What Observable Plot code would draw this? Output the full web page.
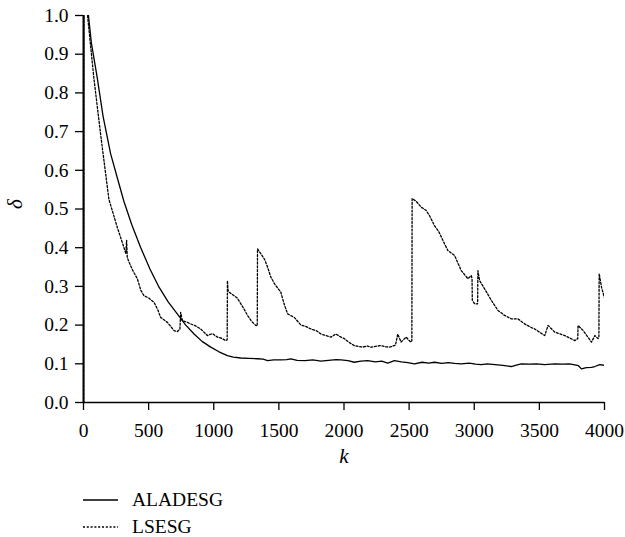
<!DOCTYPE html>
<html>
<head>
<meta charset="utf-8">
<script src="https://cdn.jsdelivr.net/npm/d3@7"></script>
<script src="https://cdn.jsdelivr.net/npm/@observablehq/plot@0.6"></script>
<style>
  body { margin: 0; background: white; }
  #wrap { position: relative; width: 625px; height: 537px; font-family: 'Liberation Serif'; }
  .leg { position: absolute; left: 83px; font-size: 19.5px; font-family: 'Liberation Serif'; display: flex; align-items: center; height: 20px; }
  .leg svg { margin-right: 14px; }
</style>
</head>
<body>
<div id="wrap">
  <div id="chart"></div>
</div>
<script>
// ---- data ----
const seriesNames = ["ALADESG", "LSESG"];
const xTicks = [0, 500, 1000, 1500, 2000, 2500, 3000, 3500, 4000];
const yTicks = [0, 0.1, 0.2, 0.3, 0.4, 0.5, 0.6, 0.7, 0.8, 0.9, 1.0];

const aladesgK = [0, 2, 38, 60, 105, 150, 208, 260, 310, 370, 438, 510, 580, 650, 720, 785, 849, 910, 977, 1040, 1105, 1150, 1208, 1270, 1336, 1380, 1413, 1460, 1515, 1560, 1592, 1640, 1700, 1760, 1823, 1880, 1940, 1977, 2030, 2079, 2130, 2182, 2240, 2290, 2336, 2387, 2440, 2490, 2541, 2600, 2650, 2695, 2750, 2800, 2850, 2900, 2960, 3010, 3054, 3100, 3160, 3220, 3285, 3330, 3362, 3420, 3480, 3540, 3618, 3680, 3730, 3772, 3800, 3823, 3860, 3900, 3926, 3964, 4000];
const aladesgV = [0, 1.3, 1.0, 0.93, 0.84, 0.74, 0.643, 0.58, 0.52, 0.46, 0.401, 0.345, 0.298, 0.26, 0.229, 0.2, 0.177, 0.158, 0.143, 0.131, 0.121, 0.117, 0.115, 0.114, 0.113, 0.112, 0.108, 0.11, 0.11, 0.111, 0.113, 0.109, 0.108, 0.11, 0.107, 0.109, 0.111, 0.11, 0.108, 0.104, 0.107, 0.108, 0.105, 0.107, 0.102, 0.108, 0.105, 0.103, 0.1, 0.104, 0.102, 0.104, 0.101, 0.103, 0.101, 0.1, 0.102, 0.099, 0.098, 0.1, 0.098, 0.096, 0.093, 0.097, 0.1, 0.099, 0.1, 0.098, 0.1, 0.099, 0.1, 0.097, 0.095, 0.087, 0.09, 0.091, 0.093, 0.098, 0.096];

const lsesgK = [0, 2, 31, 79, 131, 195, 259, 310, 325, 331, 336, 349, 380, 413, 440, 464, 500, 541, 570, 592, 644, 695, 720, 740, 746, 759, 790, 823, 860, 900, 951, 990, 1028, 1060, 1092, 1103, 1105, 1110, 1118, 1156, 1180, 1208, 1235, 1259, 1290, 1323, 1334, 1336, 1362, 1390, 1413, 1438, 1470, 1515, 1540, 1567, 1618, 1669, 1710, 1746, 1790, 1823, 1860, 1900, 1938, 1970, 2003, 2040, 2079, 2110, 2144, 2180, 2208, 2240, 2285, 2320, 2349, 2395, 2413, 2438, 2477, 2500, 2515, 2521, 2523, 2554, 2592, 2631, 2656, 2695, 2730, 2759, 2797, 2849, 2900, 2951, 2977, 2983, 2985, 3003, 3026, 3028, 3041, 3079, 3131, 3182, 3233, 3285, 3336, 3387, 3430, 3464, 3500, 3541, 3567, 3618, 3695, 3772, 3795, 3797, 3836, 3870, 3900, 3926, 3951, 3957, 3959, 3977, 4002];
const lsesgV = [0, 1.3, 1.0, 0.84, 0.694, 0.525, 0.453, 0.401, 0.385, 0.419, 0.375, 0.363, 0.34, 0.32, 0.29, 0.276, 0.27, 0.259, 0.24, 0.22, 0.207, 0.186, 0.183, 0.19, 0.233, 0.212, 0.208, 0.203, 0.198, 0.19, 0.173, 0.178, 0.169, 0.166, 0.16, 0.162, 0.315, 0.29, 0.285, 0.276, 0.27, 0.255, 0.24, 0.225, 0.21, 0.199, 0.198, 0.397, 0.384, 0.37, 0.35, 0.324, 0.305, 0.285, 0.255, 0.229, 0.22, 0.2, 0.196, 0.19, 0.185, 0.177, 0.173, 0.169, 0.177, 0.17, 0.165, 0.155, 0.147, 0.145, 0.143, 0.146, 0.143, 0.145, 0.147, 0.144, 0.143, 0.148, 0.177, 0.156, 0.169, 0.16, 0.156, 0.16, 0.527, 0.52, 0.505, 0.496, 0.483, 0.457, 0.44, 0.419, 0.393, 0.38, 0.341, 0.32, 0.328, 0.32, 0.264, 0.255, 0.255, 0.341, 0.315, 0.294, 0.264, 0.238, 0.225, 0.216, 0.216, 0.203, 0.195, 0.19, 0.182, 0.173, 0.199, 0.182, 0.173, 0.16, 0.165, 0.199, 0.186, 0.17, 0.156, 0.173, 0.165, 0.168, 0.333, 0.298, 0.268];

const aladesg = aladesgK.map((k, i) => ({k, v: aladesgV[i]}));
const lsesg = lsesgK.map((k, i) => ({k, v: lsesgV[i]}));
const dashes = {ALADESG: null, LSESG: "2,1.8"};

const serif = "Liberation Serif";

const plot = Plot.plot({
  width: 625,
  height: 475,
  marginTop: 15,
  marginBottom: 73,
  marginLeft: 83,
  marginRight: 21,
  style: {fontFamily: serif, fontSize: "19.5px", color: "black", background: "white"},
  x: {domain: [0, 4000]},
  y: {domain: [0, 1]},
  marks: [
    Plot.axisX({ticks: xTicks, tickSize: 8, tickPadding: 13, label: null, tickFormat: d => String(d), strokeWidth: 1.3}),
    Plot.axisY({ticks: yTicks, tickSize: 8, tickPadding: 7, label: null, tickFormat: d => d.toFixed(1), strokeWidth: 1.3}),
    Plot.line(aladesg, {x: "k", y: "v", stroke: "black", strokeWidth: 1.3, clip: true}),
    Plot.line(lsesg, {x: "k", y: "v", stroke: "black", strokeWidth: 1.3, strokeDasharray: dashes.LSESG, clip: true}),
    Plot.ruleY([0], {stroke: "black", strokeWidth: 1.5}),
    Plot.ruleX([0], {stroke: "black", strokeWidth: 2}),
    Plot.text(["k"], {frameAnchor: "bottom", dy: 60, fontStyle: "italic", fontSize: 21}),
    Plot.text(["δ"], {frameAnchor: "left", dx: -68, rotate: -90, fontStyle: "italic", fontSize: 21})
  ]
});
plot.querySelectorAll("text").forEach(t => t.setAttribute("font-family", serif));
const wrap = document.getElementById("wrap");
document.getElementById("chart").appendChild(plot);

seriesNames.forEach((name, i) => {
  const row = document.createElement("div");
  row.className = "leg";
  row.style.top = (490 + i * 27) + "px";
  const dash = dashes[name] ? `stroke-dasharray="${dashes[name]}"` : "";
  row.innerHTML = `<svg width="35" height="20"><line x1="0" x2="35" y1="10" y2="10" stroke="black" stroke-width="1.3" ${dash}/></svg><span>${name}</span>`;
  wrap.appendChild(row);
});
</script>
</body>
</html>
